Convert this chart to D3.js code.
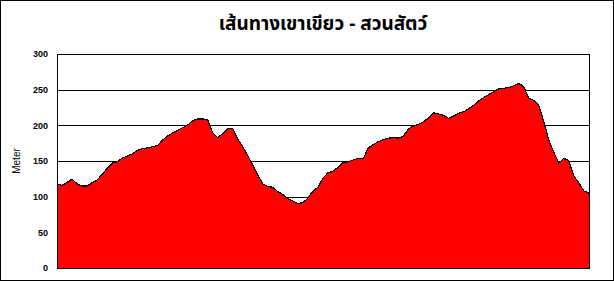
<!DOCTYPE html>
<html>
<head>
<meta charset="utf-8">
<script src="https://cdn.jsdelivr.net/npm/d3@7"></script>
<style>
  body { margin: 0; background: #fff; }
  svg { display: block; }
</style>
</head>
<body>
<svg id="chart"></svg>
<script>
// title, axis and ticks
var chartTitle = "เส้นทางเขาเขียว - สวนสัตว์";
var yLabel = "Meter";
var yTicks = [0, 50, 100, 150, 200, 250, 300];

// elevation along the route (meters), evenly spaced points
var elevation = [
  117, 116, 120, 124.5, 118, 115, 115, 119.5, 123.5, 131,
  140, 147, 149, 154, 157, 160, 165, 167, 168.5, 170,
  171.5, 179, 185, 189, 193, 196.5, 200, 206.5, 209, 209,
  208, 190, 183, 188, 195, 196, 181, 170, 158, 144,
  130, 118, 114.5, 113, 107, 103, 97, 94, 90.5, 91.5,
  98, 108, 113, 126, 133.5, 136, 141, 148, 149, 151.5,
  153.8, 153, 168, 173, 177, 180, 182, 182.7, 182, 184.5,
  195, 199, 201.5, 205, 210, 217.5, 216, 214, 210, 213,
  217, 219, 223, 228, 234, 239, 243, 247, 251, 252,
  253, 255.5, 259, 254, 238, 235, 228, 205, 179, 162,
  147, 154, 150, 129, 119, 108, 105
];

var width = 614, height = 281;
var padding = { top: 54, right: 25, bottom: 13, left: 57 };

var svg = d3.select("#chart")
            .attr("width", width)
            .attr("height", height);

// outer chart border
svg.append("rect")
    .attr("x", 0.5).attr("y", 0.5)
    .attr("width", width - 1).attr("height", height - 1)
    .attr("fill", "#fff")
    .attr("stroke", "#000");

var xScale = d3.scaleLinear()
               .domain([0, elevation.length - 1])
               .range([padding.left, width - padding.right]);

var yScale = d3.scaleLinear()
               .domain([0, 300])
               .range([height - padding.bottom, padding.top]);

// gridlines
svg.append("g")
  .selectAll("line")
  .data(yTicks)
  .enter()
  .append("line")
    .attr("x1", padding.left)
    .attr("x2", width - padding.right)
    .attr("y1", d => Math.round(yScale(d)) + 0.5)
    .attr("y2", d => Math.round(yScale(d)) + 0.5)
    .attr("stroke", "#000")
    .attr("stroke-width", 1);

var area = d3.area()
             .x((d, i) => xScale(i))
             .y0(yScale(0))
             .y1(d => yScale(d));

var line = d3.line()
             .x((d, i) => xScale(i))
             .y(d => yScale(d));

svg.append("path")
    .datum(elevation)
    .attr("d", area)
    .attr("fill", "#ff0000")
    .attr("shape-rendering", "crispEdges");

svg.append("path")
    .datum(elevation)
    .attr("d", line)
    .attr("fill", "none")
    .attr("stroke", "#000")
    .attr("stroke-width", 1.2)
    .attr("shape-rendering", "crispEdges");

// plot border
svg.append("rect")
    .attr("x", padding.left + 0.5)
    .attr("y", Math.round(yScale(300)) + 0.5)
    .attr("width", width - padding.right - padding.left)
    .attr("height", Math.round(yScale(0)) - Math.round(yScale(300)))
    .attr("fill", "none")
    .attr("stroke", "#000");

var yAxis = d3.axisLeft(yScale)
              .tickValues(yTicks)
              .tickSize(0)
              .tickPadding(9);

svg.append("g")
    .attr("transform", "translate(" + padding.left + ",0)")
    .call(yAxis)
    .call(g => g.select(".domain").remove())
    .selectAll("text")
      .attr("font-family", "'Liberation Sans', Arial, sans-serif")
      .attr("font-weight", "bold")
      .attr("font-size", "9px")
      .attr("fill", "#000");

svg.append("text")
    .attr("transform", "translate(20,161) rotate(-90)")
    .attr("text-anchor", "middle")
    .attr("font-family", "'Liberation Sans', Arial, sans-serif")
    .attr("font-size", "10px")
    .text(yLabel);

svg.append("text")
    .attr("x", (padding.left + width - padding.right) / 2)
    .attr("y", 30)
    .attr("text-anchor", "middle")
    .attr("font-family", "'Noto Sans Thai', 'Noto Sans', 'DejaVu Sans', sans-serif")
    .attr("font-weight", "bold")
    .attr("font-size", "19px")
    .text(chartTitle);
</script>
</body>
</html>
